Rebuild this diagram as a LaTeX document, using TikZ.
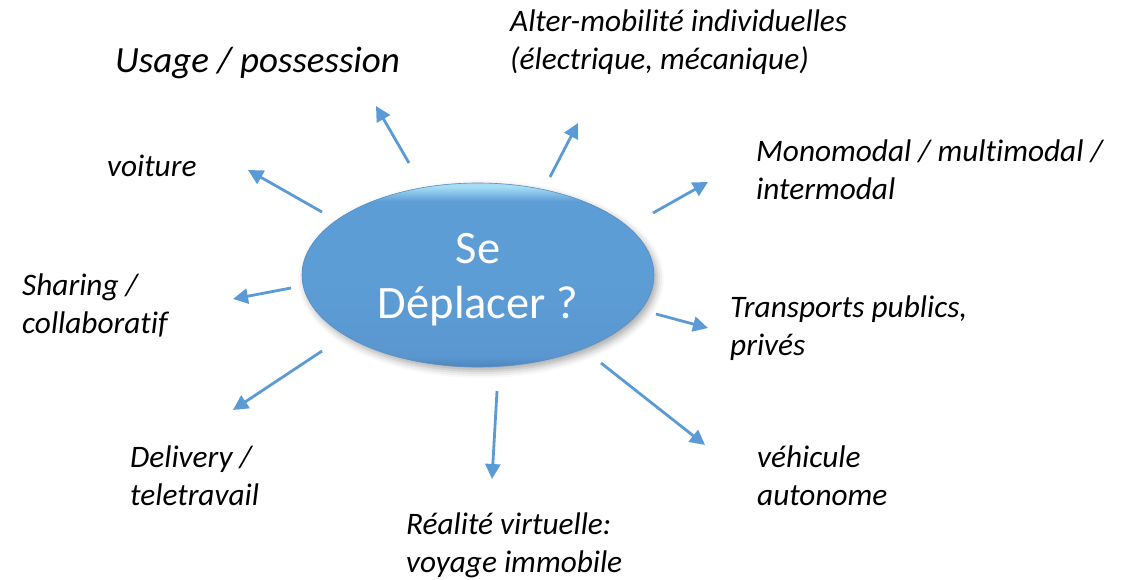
\documentclass[tikz,border=0pt]{standalone}
\usepackage{fontspec}
\setmainfont{Carlito}[Ligatures=NoCommon]
\usetikzlibrary{shapes.geometric,arrows.meta,shadows.blur}
\definecolor{arrowblue}{HTML}{5B9BD5}
\definecolor{elltop}{HTML}{A6DDF5}
\definecolor{ellmid}{HTML}{5D9DD6}
\definecolor{ellbottwo}{HTML}{5A97D0}
\definecolor{ellbot}{HTML}{4E86BE}
\definecolor{ellrim}{HTML}{5A8CC0}
\pgfdeclareverticalshading{ellshade}{100bp}{color(0bp)=(ellbot); color(25bp)=(ellbot); color(28bp)=(ellbottwo); color(50bp)=(ellmid); color(70bp)=(ellmid); color(74bp)=(elltop); color(75bp)=(elltop); color(100bp)=(elltop)}
\begin{document}
\begin{tikzpicture}[x=1pt,y=-1pt,
  lbl/.style={anchor=base west, align=left, inner sep=0pt,
    font=\fontsize{31.3}{38}\selectfont\itshape},
  conn/.style={draw=arrowblue, line width=2.8pt,
    -{Triangle[length=15pt,width=15pt]}},
  bubble/.style={ellipse, minimum width=352pt, minimum height=184pt,
    inner sep=0pt, shading=ellshade, draw=ellrim, line width=0.6pt,
    text=white, align=center, font=\fontsize{46.5}{55}\selectfont,
    text height=97pt, text depth=11pt,
    blur shadow={shadow xshift=3pt, shadow yshift=-4pt,
      shadow blur radius=7pt, shadow opacity=35}}]
\useasboundingbox (0,0) rectangle (1137,580);

\node[bubble] (se) at (478,275) {Se\\Déplacer ?};

\node[lbl, font=\fontsize{37}{44}\selectfont\itshape] (usage) at (115,73) {Usage / possession};
\node[lbl] (alter) at (510,70) {Alter-mobilité individuelles\\(électrique, mécanique)};
\node[lbl] (voiture) at (107,177) {voiture};
\node[lbl] (mono) at (756,200) {Monomodal / multimodal /\\intermodal};
\node[lbl] (transp) at (730,355) {Transports publics,\\privés};
\node[lbl] (vehic) at (757,505) {véhicule\\autonome};
\node[lbl] (real) at (406,572) {Réalité virtuelle:\\voyage immobile};
\node[lbl] (deliv) at (130,505) {Delivery /\\teletravail};
\node[lbl] (share) at (22,333) {Sharing /\\collaboratif};

\coordinate (t1) at (322,212); \coordinate (h1) at (248,170);
\coordinate (t2) at (409,163); \coordinate (h2) at (376,106);
\coordinate (t3) at (550,177); \coordinate (h3) at (578,123);
\coordinate (t4) at (653,213); \coordinate (h4) at (708,182);
\coordinate (t5) at (656,314); \coordinate (h5) at (708,328);
\coordinate (t6) at (601,363); \coordinate (h6) at (705,445);
\coordinate (t7) at (497,391); \coordinate (h7) at (492,479);
\coordinate (t8) at (322,351); \coordinate (h8) at (233,410);
\coordinate (t9) at (291,288); \coordinate (h9) at (233,299);

\foreach \i in {1,...,9} { \draw[conn] (t\i) -- (h\i); }
\end{tikzpicture}
\end{document}
